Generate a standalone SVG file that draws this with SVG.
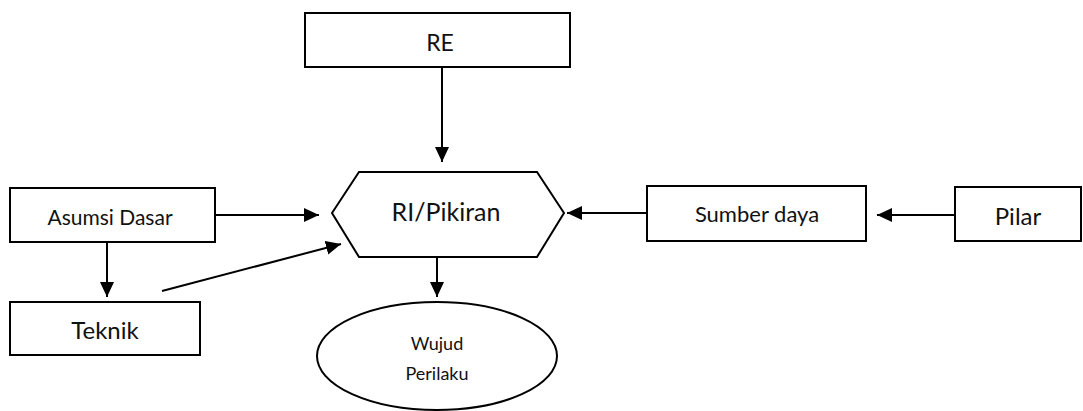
<svg xmlns="http://www.w3.org/2000/svg" width="1083" height="411" viewBox="0 0 1083 411">
<style>
.box{fill:#fff;stroke:#000;stroke-width:2}
.t{font-family:Lato,"Open Sans","DejaVu Sans",sans-serif;fill:#111;text-anchor:middle;dominant-baseline:central}
.c{stroke:#000;stroke-width:2;fill:none}
</style>
<defs>
<marker id="ah" markerUnits="userSpaceOnUse" markerWidth="16" markerHeight="14" refX="15" refY="7" orient="auto">
<path d="M0,0 L15,7 L0,14 Z" fill="#000"/>
</marker>
</defs>
<rect width="1083" height="411" fill="#fff"/>
<g id="connectors">
<line class="c" x1="442" y1="67" x2="442" y2="162" marker-end="url(#ah)"/>
<line class="c" x1="215" y1="215" x2="319" y2="215" marker-end="url(#ah)"/>
<line class="c" x1="107" y1="242" x2="107" y2="297" marker-end="url(#ah)"/>
<line class="c" x1="162" y1="291" x2="341" y2="244" marker-end="url(#ah)"/>
<line class="c" x1="437" y1="257" x2="437" y2="297" marker-end="url(#ah)"/>
<line class="c" x1="647" y1="213" x2="567" y2="213" marker-end="url(#ah)"/>
<line class="c" x1="955" y1="215" x2="877" y2="215" marker-end="url(#ah)"/>
</g>
<g id="re">
<rect class="box" x="305" y="13" width="265" height="54"/>
<text class="t" x="440" y="42" font-size="23">RE</text>
</g>
<g id="ri-pikiran">
<polygon class="box" points="332,213 359,172 537,172 564,213 537,257 359,257"/>
<text class="t" x="446" y="211" font-size="25">RI/Pikiran</text>
</g>
<g id="asumsi-dasar">
<rect class="box" x="10" y="188" width="205" height="54"/>
<text class="t" x="110" y="216" font-size="21">Asumsi Dasar</text>
</g>
<g id="teknik">
<rect class="box" x="10" y="302" width="190" height="53"/>
<text class="t" x="105" y="329" font-size="24">Teknik</text>
</g>
<g id="sumber-daya">
<rect class="box" x="647" y="186" width="219" height="55"/>
<text class="t" x="757" y="213" font-size="22">Sumber daya</text>
</g>
<g id="pilar">
<rect class="box" x="955" y="187" width="126" height="54"/>
<text class="t" x="1018" y="215" font-size="24">Pilar</text>
</g>
<g id="wujud-perilaku">
<ellipse class="box" cx="437" cy="356" rx="120" ry="54"/>
<text class="t" x="437" y="343" font-size="18">Wujud</text>
<text class="t" x="437" y="373" font-size="18">Perilaku</text>
</g>
</svg>
